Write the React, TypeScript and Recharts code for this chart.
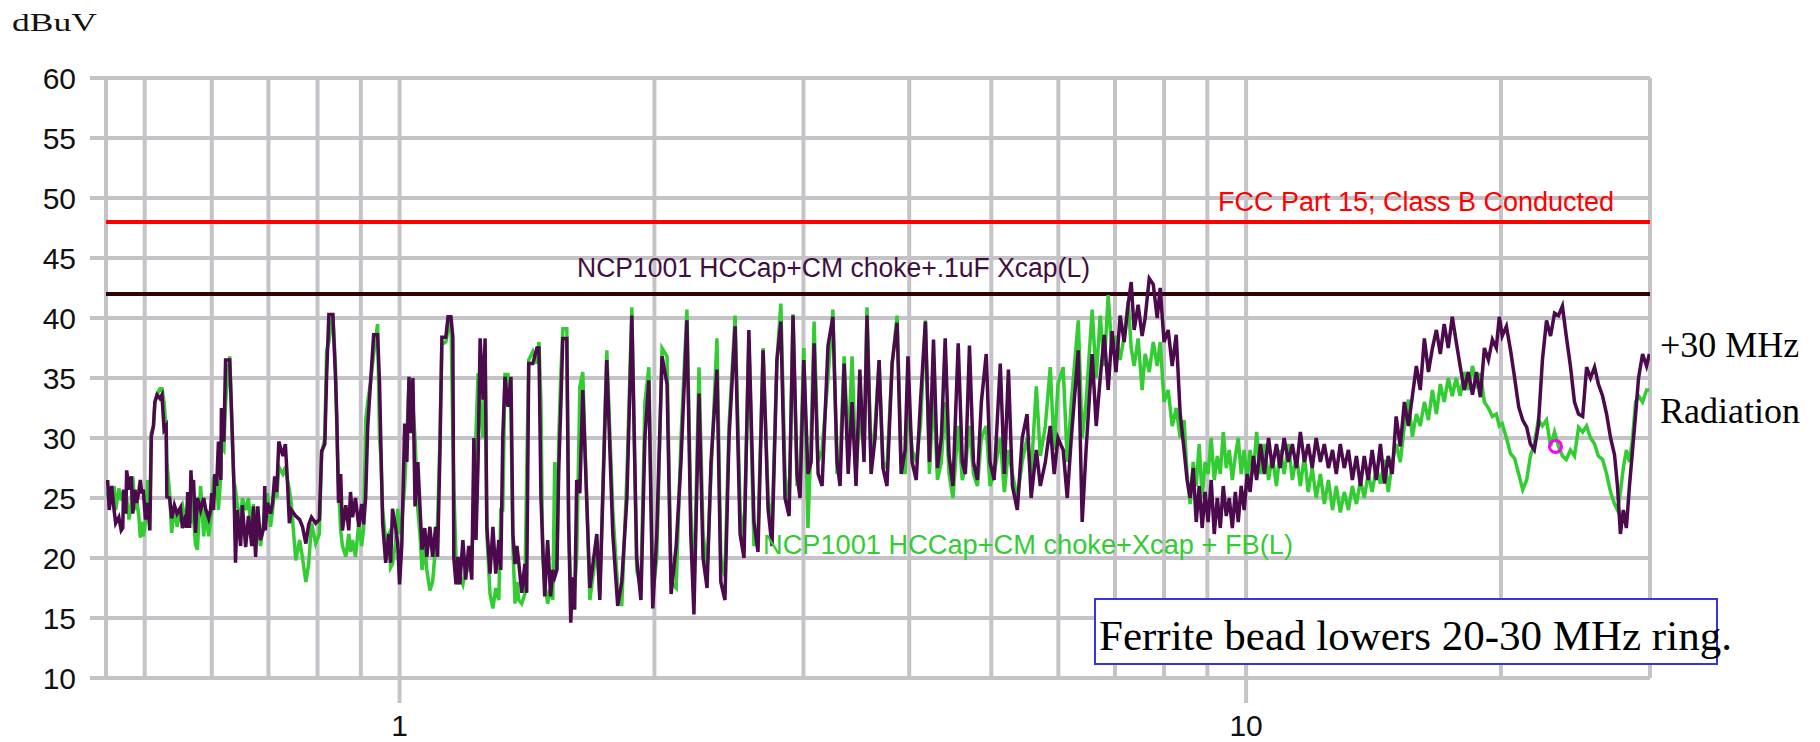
import React from 'react';
import { LineChart, Line, XAxis, YAxis, CartesianGrid, ReferenceLine, ReferenceDot } from 'recharts';

// sweep frequencies (MHz) shared by both traces
const sweepMHz = [
  0.452, 0.454, 0.457, 0.46, 0.462, 0.466, 0.469, 0.471, 0.472, 0.475,
  0.476, 0.479, 0.482, 0.484, 0.487, 0.489, 0.492, 0.494, 0.496, 0.498,
  0.501, 0.504, 0.507, 0.508, 0.509, 0.512, 0.514, 0.517, 0.521, 0.524,
  0.527, 0.53, 0.531, 0.535, 0.538, 0.542, 0.546, 0.551, 0.554, 0.559,
  0.56, 0.562, 0.565, 0.567, 0.568, 0.571, 0.574, 0.577, 0.582, 0.587,
  0.59, 0.595, 0.598, 0.6, 0.603, 0.605, 0.608, 0.611, 0.615, 0.616,
  0.62, 0.623, 0.63, 0.633, 0.637, 0.64, 0.643, 0.649, 0.652, 0.658,
  0.663, 0.669, 0.672, 0.676, 0.68, 0.685, 0.691, 0.693, 0.694, 0.698,
  0.704, 0.708, 0.712, 0.716, 0.72, 0.728, 0.733, 0.737, 0.741, 0.745,
  0.754, 0.762, 0.768, 0.775, 0.781, 0.787, 0.796, 0.804, 0.809, 0.816,
  0.82, 0.825, 0.834, 0.84, 0.843, 0.847, 0.852, 0.856, 0.864, 0.871,
  0.875, 0.88, 0.887, 0.895, 0.902, 0.907, 0.912, 0.917, 0.924, 0.932,
  0.942, 0.947, 0.95, 0.955, 0.963, 0.971, 0.976, 0.981, 0.989, 0.995,
  1.0, 1.006, 1.014, 1.02, 1.026, 1.031, 1.037, 1.043, 1.051, 1.057,
  1.063, 1.071, 1.077, 1.086, 1.094, 1.103, 1.109, 1.116, 1.122, 1.134,
  1.141, 1.15, 1.156, 1.159, 1.166, 1.172, 1.178, 1.188, 1.197, 1.207,
  1.217, 1.224, 1.231, 1.238, 1.245, 1.255, 1.262, 1.268, 1.279, 1.289,
  1.299, 1.31, 1.317, 1.324, 1.332, 1.343, 1.354, 1.361, 1.369, 1.376,
  1.383, 1.394, 1.406, 1.413, 1.421, 1.437, 1.453, 1.461, 1.469, 1.476,
  1.484, 1.496, 1.508, 1.517, 1.525, 1.534, 1.542, 1.55, 1.559, 1.576,
  1.584, 1.593, 1.601, 1.61, 1.619, 1.633, 1.646, 1.678, 1.71, 1.724,
  1.757, 1.786, 1.81, 1.83, 1.856, 1.881, 1.906, 1.928, 1.949, 1.97,
  1.991, 2.013, 2.042, 2.07, 2.093, 2.122, 2.15, 2.185, 2.208, 2.227,
  2.258, 2.283, 2.308, 2.333, 2.371, 2.396, 2.423, 2.45, 2.491, 2.525,
  2.552, 2.586, 2.622, 2.651, 2.688, 2.725, 2.754, 2.791, 2.821, 2.853,
  2.885, 2.916, 2.948, 2.972, 3.003, 3.037, 3.063, 3.088, 3.122, 3.156,
  3.207, 3.25, 3.287, 3.314, 3.351, 3.388, 3.424, 3.461, 3.497, 3.537,
  3.566, 3.606, 3.645, 3.685, 3.724, 3.765, 3.818, 3.87, 3.913, 3.955,
  3.986, 4.031, 4.077, 4.124, 4.18, 4.226, 4.273, 4.319, 4.365, 4.411,
  4.458, 4.505, 4.57, 4.621, 4.66, 4.712, 4.764, 4.815, 4.867, 4.932,
  4.983, 5.039, 5.124, 5.181, 5.239, 5.296, 5.367, 5.439, 5.511, 5.573,
  5.652, 5.714, 5.792, 5.87, 5.933, 5.995, 6.08, 6.148, 6.216, 6.335,
  6.403, 6.471, 6.579, 6.652, 6.725, 6.799, 6.872, 6.945, 7.02, 7.099,
  7.178, 7.257, 7.316, 7.375, 7.455, 7.536, 7.599, 7.684, 7.768, 7.852,
  7.916, 8.0, 8.09, 8.179, 8.269, 8.359, 8.448, 8.517, 8.588, 8.66,
  8.731, 8.802, 8.874, 8.945, 9.018, 9.094, 9.17, 9.246, 9.322, 9.398,
  9.475, 9.553, 9.632, 9.711, 9.789, 9.868, 9.947, 10.03, 10.11, 10.2,
  10.29, 10.4, 10.51, 10.63, 10.74, 10.86, 10.97, 11.09, 11.22, 11.34,
  11.47, 11.59, 11.72, 11.84, 11.97, 12.1, 12.24, 12.37, 12.51, 12.65,
  12.78, 12.92, 13.06, 13.21, 13.35, 13.5, 13.65, 13.79, 13.94, 14.09,
  14.25, 14.41, 14.57, 14.72, 14.88, 15.04, 15.21, 15.38, 15.55, 15.72,
  15.89, 16.06, 16.24, 16.42, 16.6, 16.78, 16.96, 17.14, 17.33, 17.52,
  17.71, 17.9, 18.1, 18.3, 18.51, 18.71, 18.91, 19.12, 19.33, 19.54,
  19.75, 19.91, 20.07, 20.3, 20.53, 20.76, 20.99, 21.22, 21.45, 21.67,
  21.9, 22.14, 22.39, 22.64, 22.89, 23.14, 23.39, 23.64, 23.89, 24.16,
  24.43, 24.7, 24.98, 25.25, 25.52, 25.8, 26.07, 26.37, 26.66, 26.95,
  27.24, 27.46, 27.68, 27.9, 28.13, 28.37, 28.61, 28.85, 29.08, 29.4,
  29.72, 29.95,
];

// NCP1001 HCCap+CM choke+.1uF Xcap(L), dBuV
const xcapDbuv = [
  26.5, 24.0, 26.0, 24.0, 22.9, 23.4, 22.3, 22.5, 25.7, 23.7,
  27.3, 25.7, 26.8, 23.7, 25.7, 24.6, 25.5, 26.5, 25.4, 25.7,
  23.2, 24.6, 22.3, 26.0, 30.1, 31.0, 33.0, 33.6, 33.3, 33.6,
  30.7, 31.0, 25.1, 25.0, 23.3, 24.4, 23.7, 24.2, 22.5, 23.6,
  22.5, 25.5, 22.5, 27.3, 26.0, 26.5, 22.1, 25.0, 24.0, 25.0,
  24.1, 23.3, 24.0, 25.4, 24.0, 27.0, 26.0, 29.7, 26.5, 32.5,
  29.7, 36.5, 36.5, 32.5, 26.5, 19.6, 24.0, 21.0, 24.4, 20.9,
  23.5, 21.0, 24.3, 20.1, 24.3, 21.5, 22.5, 26.0, 22.3, 24.6,
  23.7, 24.6, 26.8, 25.5, 29.7, 28.5, 29.5, 26.5, 22.9, 24.0,
  23.5, 23.2, 22.6, 21.2, 22.8, 23.4, 22.9, 23.2, 28.9, 29.5,
  35.1, 40.3, 40.3, 35.1, 31.8, 24.6, 27.0, 22.3, 24.4, 22.3,
  25.5, 23.4, 25.0, 22.6, 24.5, 22.8, 25.1, 30.9, 34.6, 38.6,
  38.6, 34.6, 30.0, 22.9, 19.6, 22.0, 19.6, 24.1, 22.6, 21.2,
  17.8, 21.0, 31.2, 28.0, 35.1, 30.4, 35.0, 24.3, 28.0, 24.3,
  20.7, 22.5, 20.1, 22.6, 20.1, 22.6, 20.1, 28.7, 38.4, 38.4,
  40.1, 40.1, 38.4, 20.0, 17.8, 20.1, 17.8, 21.5, 18.2, 21.0,
  18.2, 30.0, 21.5, 28.0, 38.3, 33.2, 38.3, 22.6, 18.7, 22.6,
  18.7, 21.5, 19.0, 30.0, 35.1, 32.6, 35.1, 22.0, 19.5, 21.0,
  19.6, 17.1, 19.5, 17.1, 36.2, 36.2, 37.5, 37.5, 25.0, 21.2,
  16.8, 21.5, 16.8, 19.0, 18.4, 19.0, 27.5, 32.3, 38.3, 38.3,
  22.9, 14.6, 18.4, 15.7, 26.5, 25.4, 34.0, 17.5, 22.0, 16.5,
  36.5, 22.0, 16.0, 18.0, 25.0, 40.2, 20.0, 16.5, 30.0, 34.8,
  15.8, 22.0, 36.8, 34.5, 17.0, 21.0, 28.0, 39.8, 22.0, 15.3,
  33.7, 20.0, 17.5, 28.0, 35.7, 18.0, 16.5, 30.0, 39.3, 22.0,
  20.0, 39.0, 23.0, 20.5, 37.3, 24.0, 21.0, 36.5, 39.7, 25.0,
  23.5, 40.2, 27.0, 25.0, 36.5, 27.0, 28.0, 37.9, 27.0, 26.0,
  37.7, 40.1, 28.0, 26.0, 36.2, 27.0, 33.0, 26.0, 35.7, 28.0,
  40.2, 27.0, 30.0, 36.5, 27.5, 26.0, 36.2, 39.6, 27.0, 29.0,
  36.8, 28.0, 26.5, 33.0, 39.7, 28.0, 38.2, 27.5, 30.0, 38.3,
  28.5, 26.0, 37.9, 28.0, 27.0, 37.7, 28.0, 26.5, 33.0, 37.0,
  28.0, 26.5, 36.2, 27.0, 35.7, 26.0, 24.0, 30.0, 32.0, 25.0,
  29.0, 26.0, 28.0, 31.0, 27.0, 30.0, 29.0, 25.0, 30.0, 37.3,
  23.0, 29.0, 37.0, 31.0, 35.0, 38.6, 34.0, 38.9, 35.5, 40.2,
  38.0, 41.2, 43.0, 39.0, 41.1, 38.5, 40.0, 43.3, 42.8, 40.0,
  42.5, 38.0, 39.0, 36.0, 38.6, 32.0, 29.0, 26.5, 25.0, 27.5,
  23.0, 26.0, 22.5, 25.5, 23.0, 26.5, 22.0, 25.0, 22.5, 26.0,
  23.5, 25.0, 22.5, 25.5, 23.0, 26.0, 24.0, 27.0, 25.5, 28.5,
  26.5, 29.5, 27.0, 30.0, 27.5, 29.5, 27.5, 30.0, 28.0, 29.5,
  27.5, 30.5, 28.0, 29.5, 27.5, 30.0, 28.0, 29.5, 27.5, 29.0,
  27.0, 29.5, 27.5, 29.0, 26.5, 28.5, 26.0, 28.5, 26.5, 29.0,
  26.5, 29.5, 26.2, 28.5, 27.0, 31.8, 29.3, 33.0, 31.0, 33.5,
  36.0, 34.0, 38.3, 35.5, 37.5, 39.0, 37.0, 39.5, 37.5, 40.1,
  38.0, 36.0, 34.0, 35.5, 33.6, 35.5, 33.4, 37.5, 36.5, 38.2,
  37.5, 40.1, 38.5, 39.3, 37.3, 35.0, 32.6, 31.5, 30.9, 29.5,
  29.0, 31.0, 36.5, 39.8, 38.5, 40.4, 40.2, 41.0, 38.5, 36.0,
  33.0, 32.0, 31.8, 35.9, 35.0, 35.9, 34.5, 33.5, 32.0, 30.0,
  28.6, 26.0, 22.0, 24.0, 22.5, 26.0, 29.0, 32.0, 35.0, 37.0,
  36.0, 37.0,
];

// NCP1001 HCCap+CM choke+Xcap + FB(L), dBuV
const ferriteDbuv = [
  25.5, 24.5, 25.0, 26.0, 24.0, 25.8, 24.8, 25.5, 24.8, 24.0,
  25.0, 23.2, 24.5, 26.8, 24.0, 25.0, 23.5, 21.7, 23.0, 21.8,
  23.0, 26.5, 24.0, 27.0, 30.4, 31.0, 33.0, 33.6, 34.1, 34.1,
  33.0, 30.7, 28.0, 25.4, 22.1, 24.3, 22.6, 24.0, 24.4, 22.8,
  23.5, 24.5, 23.6, 26.0, 22.9, 23.5, 21.1, 20.7, 26.0, 21.8,
  24.0, 21.8, 23.0, 24.0, 26.8, 25.0, 26.5, 24.0, 27.0, 29.3,
  29.0, 33.0, 36.8, 32.0, 26.5, 25.7, 24.5, 23.0, 25.0, 24.0,
  25.0, 21.4, 24.5, 21.4, 23.5, 21.0, 23.0, 24.0, 23.0, 25.4,
  22.6, 24.0, 26.0, 25.0, 27.6, 27.0, 27.6, 26.5, 25.7, 24.5,
  19.8, 21.5, 20.0, 18.0, 19.5, 22.9, 21.2, 22.0, 28.7, 30.0,
  37.3, 38.0, 40.3, 36.0, 30.7, 26.0, 22.3, 21.0, 20.1, 22.0,
  20.5, 21.5, 20.1, 22.9, 21.0, 22.5, 31.5, 33.0, 34.6, 37.0,
  39.5, 30.0, 28.7, 24.0, 21.5, 22.0, 19.2, 19.5, 21.2, 24.1,
  22.0, 23.0, 26.0, 30.0, 34.8, 33.5, 32.6, 30.0, 24.0, 22.0,
  19.0, 21.0, 19.0, 17.3, 18.0, 21.0, 23.0, 30.0, 37.8, 38.0,
  39.0, 40.1, 30.1, 26.0, 20.0, 17.8, 18.5, 17.8, 19.0, 19.0,
  20.0, 24.0, 30.4, 35.4, 33.0, 30.0, 37.0, 22.0, 17.0, 15.8,
  17.5, 16.5, 24.0, 24.0, 35.3, 35.3, 32.0, 21.0, 16.2, 18.0,
  16.5, 16.2, 17.0, 27.0, 36.5, 37.2, 36.2, 38.0, 33.0, 20.0,
  18.0, 16.2, 17.5, 16.5, 28.0, 19.0, 30.0, 35.0, 39.1, 39.1,
  22.2, 18.0, 17.1, 17.5, 20.0, 34.3, 35.5, 16.5, 21.0, 17.0,
  37.3, 24.0, 17.5, 16.0, 27.0, 40.9, 19.0, 17.5, 33.0, 35.9,
  17.0, 20.0, 37.5, 36.8, 18.0, 17.5, 30.0, 40.7, 24.0, 17.0,
  35.9, 22.0, 19.0, 27.0, 38.3, 20.0, 18.5, 31.0, 40.2, 24.0,
  21.5, 38.2, 21.0, 22.0, 37.5, 25.0, 22.5, 36.5, 41.2, 27.0,
  24.0, 40.3, 26.0, 27.0, 37.5, 22.5, 30.0, 39.7, 28.0, 29.0,
  35.0, 40.7, 27.0, 28.0, 36.8, 29.0, 36.8, 27.0, 32.0, 29.0,
  40.9, 28.0, 31.0, 36.4, 28.0, 27.5, 36.2, 40.2, 28.0, 27.0,
  33.0, 29.0, 28.0, 31.0, 39.8, 27.0, 34.0, 26.5, 28.0, 33.0,
  27.0, 25.0, 31.0, 26.5, 27.5, 31.0, 27.0, 26.0, 30.0, 31.0,
  26.0, 27.0, 30.0, 25.5, 29.0, 27.0, 25.0, 28.0, 30.0, 27.0,
  34.3, 28.5, 31.0, 35.9, 29.0, 34.5, 35.9, 28.0, 33.0, 39.8,
  30.0, 33.0, 40.7, 35.0, 40.2, 36.0, 41.9, 37.0, 38.5, 36.5,
  38.5, 41.4, 37.5, 36.0, 38.3, 34.0, 37.0, 35.5, 38.0, 36.0,
  38.0, 33.0, 34.0, 31.0, 32.5, 30.0, 31.5, 27.0, 24.5, 28.0,
  26.0, 29.5, 25.0, 28.0, 27.0, 30.0, 26.5, 28.5, 27.0, 30.5,
  27.5, 29.0, 26.5, 28.5, 30.0, 27.0, 29.0, 26.5, 29.0, 27.0,
  30.5, 27.0, 29.5, 26.5, 28.5, 26.0, 29.0, 27.0, 29.5, 26.5,
  28.5, 26.0, 28.5, 25.5, 27.5, 25.0, 27.0, 24.5, 26.5, 24.0,
  26.0, 23.8, 25.5, 24.0, 26.0, 24.5, 26.5, 25.0, 27.0, 25.5,
  27.5, 26.2, 28.2, 25.5, 28.0, 29.5, 28.0, 31.0, 33.2, 30.1,
  32.0, 31.0, 33.0, 31.5, 34.0, 32.0, 34.5, 33.0, 35.0, 33.5,
  35.0, 33.5, 35.5, 34.0, 36.0, 34.5, 35.4, 33.0, 32.5, 31.8,
  32.0, 31.0, 31.2, 30.0, 28.7, 28.3, 27.0, 25.7, 26.5, 28.5,
  29.5, 31.5, 31.0, 31.5, 29.3, 30.5, 29.3, 28.5, 28.2, 29.0,
  28.5, 30.9, 30.5, 31.0, 30.0, 29.5, 28.5, 28.2, 27.0, 25.5,
  24.5, 24.0, 25.5, 27.5, 29.0, 28.0, 30.0, 33.0, 33.5, 33.0,
  34.0, 34.0,
];

const fccClassB = 48;
const xcapReference = 42;
const yTicks = [10, 15, 20, 25, 30, 35, 40, 45, 50, 55, 60];
const xTicks = [1, 10];
const gridMHz = [0.45, 0.5, 0.6, 0.7, 0.8, 0.9, 1, 2, 3, 4, 5, 6, 7, 8, 9, 10, 20, 30];
const markerMHz = 23.2;
const markerDbuv = 29.3;

const rows = sweepMHz.map((f, i) => ({ f, xcap: xcapDbuv[i], ferrite: ferriteDbuv[i] }));

const SANS = '"Liberation Sans", Arial, sans-serif';
const SERIF = '"Liberation Serif", "Times New Roman", serif';
const GRID = '#c5c3c7';
const PURPLE = '#4b0a4b';
const GREEN = '#33cc33';

const W = 1804;
const H = 734;

const App: React.FC = () => {
  return (
    <div style={{ position: 'relative', width: W, height: H }}>
      <LineChart width={W} height={H} data={rows} margin={{ top: 70, right: 162, bottom: 4, left: 8 }}>
        <CartesianGrid vertical={false} stroke={GRID} strokeWidth={4} />
        {gridMHz.map(f => (
          <ReferenceLine key={f} x={f} stroke={GRID} strokeWidth={4} />
        ))}
        <XAxis
          dataKey="f"
          type="number"
          scale="log"
          domain={[0.45, 30]}
          allowDataOverflow
          ticks={xTicks}
          interval={0}
          height={60}
          axisLine={false}
          tickLine={{ stroke: GRID, strokeWidth: 4 }}
          tickSize={25}
          tickMargin={12}
          tick={{ fill: '#111', fontSize: 30, fontFamily: SANS }}
        />
        <YAxis
          type="number"
          domain={[10, 60]}
          ticks={yTicks}
          interval={0}
          width={90}
          axisLine={false}
          tickLine={{ stroke: GRID, strokeWidth: 4 }}
          tickSize={16}
          tickMargin={14}
          tick={{ fill: '#111', fontSize: 30, fontFamily: SANS }}
        />
        <ReferenceLine y={fccClassB} stroke="#ff0000" strokeWidth={4} />
        <ReferenceLine y={xcapReference} stroke="#2e0404" strokeWidth={4} />
        <Line type="linear" dataKey="ferrite" stroke={GREEN} strokeWidth={3.5} dot={false} isAnimationActive={false} />
        <Line type="linear" dataKey="xcap" stroke={PURPLE} strokeWidth={3.5} dot={false} isAnimationActive={false} />
        <ReferenceDot x={markerMHz} y={markerDbuv} r={6} fill="none" stroke="#ff00ff" strokeWidth={3} />
      </LineChart>

      {/* titles, series labels and the callout */}
      <svg width={W} height={H} style={{ position: 'absolute', left: 0, top: 0, pointerEvents: 'none' }}>
        <text x={4} y={23} fontFamily={SERIF} fontSize={25} fill="#111" textLength={85} lengthAdjust="spacingAndGlyphs">
          dBuV
        </text>
        <text x={1606} y={203} textAnchor="end" fontFamily={SANS} fontSize={27} fill="#ff0000" textLength={396} lengthAdjust="spacingAndGlyphs">
          FCC Part 15; Class B Conducted
        </text>
        <text x={569} y={269} fontFamily={SANS} fontSize={27} fill="#3f0f3f" textLength={513} lengthAdjust="spacingAndGlyphs">
          NCP1001 HCCap+CM choke+.1uF Xcap(L)
        </text>
        <text x={1285} y={546} textAnchor="end" fontFamily={SANS} fontSize={27} fill={GREEN} textLength={530} lengthAdjust="spacingAndGlyphs">
          NCP1001 HCCap+CM choke+Xcap + FB(L)
        </text>
        <text x={1652} y={349} fontFamily={SERIF} fontSize={36} fill="#000">+30 MHz</text>
        <text x={1652} y={415} fontFamily={SERIF} fontSize={36} fill="#000">Radiation</text>
        <rect x={1087} y={591} width={622} height={65} fill="#fff" stroke="#3737d9" strokeWidth={2} />
        <text x={1091} y={642} fontFamily={SERIF} fontSize={43} fill="#000">
          Ferrite bead lowers 20-30 MHz ring.
        </text>
      </svg>
    </div>
  );
};

export default App;
